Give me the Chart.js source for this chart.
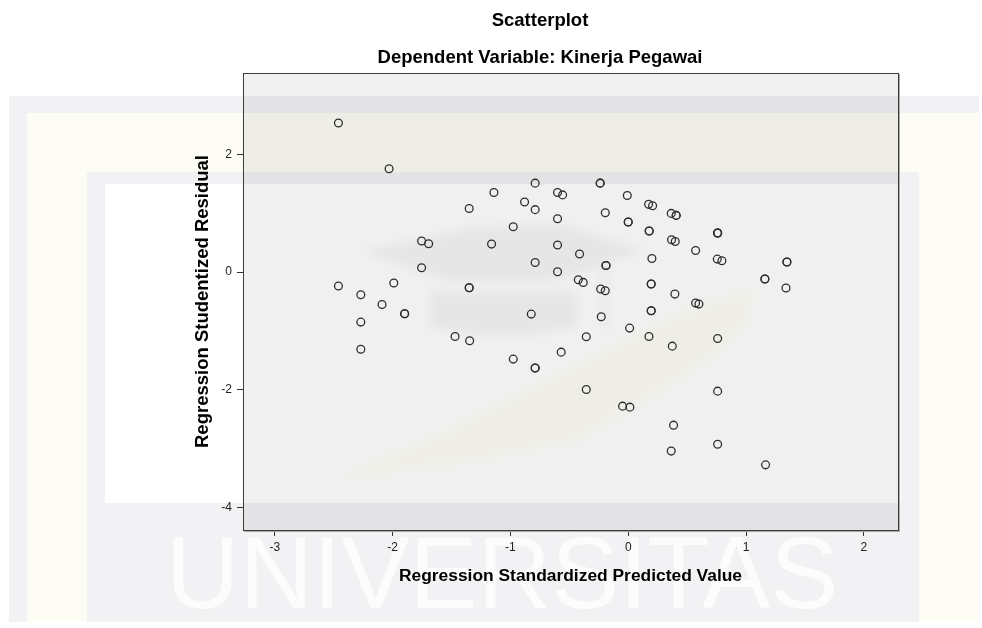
<!DOCTYPE html>
<html>
<head>
<meta charset="utf-8">
<script src="https://cdn.jsdelivr.net/npm/chart.js@4/dist/chart.umd.min.js"></script>
<style>
html,body{margin:0;padding:0;background:#fff;}
#wrap{position:relative;width:982px;height:628px;}
</style>
</head>
<body>
<div id="wrap"><canvas id="c" width="982" height="628"></canvas></div>
<script>
// ---- chart content ----
const chartTitle = 'Scatterplot';
const chartSubtitle = 'Dependent Variable: Kinerja Pegawai';
const xAxisTitle = 'Regression Standardized Predicted Value';
const yAxisTitle = 'Regression Studentized Residual';
const watermarkText = 'UNIVERSITAS';

const xTicks = [-3, -2, -1, 0, 1, 2];
const yTicks = [-4, -2, 0, 2];

const predictedValues = [
  -2.46, -2.03, -0.79, -0.238, -0.238, -1.14, -0.60, -0.557, -0.008, -0.88,
  0.173, 0.207, -1.35, -0.79, 0.365, 0.407, 0.407, -0.195, -0.60, 0.0,
  0.0, -0.976, 0.178, 0.178, 0.759, 0.759, 0.759, -1.754, -1.694, -1.16,
  -0.60, 0.368, 0.399, 0.572, -0.413, 0.201, 0.756, 0.795, 1.347, 1.347,
  -0.79, -0.189, -0.189, -1.754, -0.60, -2.46, -1.99, -1.35, -1.35, -2.27,
  -0.424, -0.382, 0.195, 0.195, 1.16, 1.16, 1.339, -0.234, -0.195, 0.396,
  -2.09, -1.898, -1.898, -0.823, 0.572, 0.60, -0.229, 0.195, 0.195, -2.27,
  -1.47, -1.346, -0.356, 0.012, 0.176, 0.374, 0.759, -2.27, -0.976, -0.569,
  -0.79, -0.79, -0.356, 0.759, -0.048, 0.014, 0.385, 0.365, 0.759, 1.166
];
const studentizedResiduals = [
  2.53, 1.755, 1.51, 1.51, 1.51, 1.35, 1.35, 1.31, 1.30, 1.19,
  1.15, 1.127, 1.08, 1.06, 0.996, 0.962, 0.962, 1.008, 0.905, 0.85,
  0.85, 0.77, 0.697, 0.697, 0.663, 0.663, 0.663, 0.527, 0.48, 0.475,
  0.459, 0.549, 0.52, 0.367, 0.306, 0.231, 0.22, 0.192, 0.17, 0.17,
  0.163, 0.112, 0.112, 0.073, 0.005, -0.238, -0.187, -0.267, -0.267, -0.386,
  -0.131, -0.176, -0.204, -0.204, -0.119, -0.119, -0.272, -0.289, -0.318, -0.374,
  -0.55, -0.709, -0.709, -0.714, -0.527, -0.544, -0.76, -0.658, -0.658, -0.85,
  -1.094, -1.167, -1.099, -0.952, -1.094, -1.258, -1.128, -1.31, -1.478, -1.36,
  -1.63, -1.63, -1.995, -2.022, -2.277, -2.294, -2.60, -3.04, -2.923, -3.274
];

// ---- drawing ----
const FONT = '"Liberation Sans", Arial, sans-serif';
Chart.defaults.font.family = FONT;

const points = predictedValues.map((x, i) => ({ x: x, y: studentizedResiduals[i] }));

const backdrop = {
  id: 'backdrop',
  beforeDraw(chart) {
    const ctx = chart.ctx, a = chart.chartArea;
    ctx.save();
    ctx.fillStyle = '#ffffff';
    ctx.fillRect(0, 0, chart.width, chart.height);
    // faint page watermark frame
    ctx.fillStyle = '#f2f2f4';
    ctx.fillRect(9, 96, 970, 526);
    ctx.fillStyle = '#fdfcf5';
    ctx.fillRect(27, 113, 952, 509);
    ctx.fillStyle = '#f2f2f4';
    ctx.fillRect(87, 172, 832, 450);
    ctx.fillStyle = '#ffffff';
    ctx.fillRect(105, 184, 796, 319);
    // watermark word
    ctx.font = '102px ' + FONT;
    ctx.fillStyle = '#fcfcfc';
    ctx.textAlign = 'center';
    ctx.textBaseline = 'alphabetic';
    ctx.fillText(watermarkText, 502, 608);
    // plot background (multiplied with the watermark)
    ctx.globalCompositeOperation = 'multiply';
    ctx.fillStyle = '#f0f0f0';
    ctx.fillRect(a.left, a.top, a.right - a.left, a.bottom - a.top);
    // faint logo: mortarboard
    ctx.save();
    ctx.beginPath();
    ctx.rect(a.left, a.top, a.right - a.left, a.bottom - a.top);
    ctx.clip();
    ctx.filter = 'blur(5px)';
    ctx.fillStyle = '#f5f5f6';
    ctx.beginPath();
    ctx.moveTo(362, 252); ctx.lineTo(470, 228); ctx.lineTo(560, 224);
    ctx.lineTo(644, 250); ctx.lineTo(560, 280); ctx.lineTo(450, 282);
    ctx.closePath(); ctx.fill();
    ctx.beginPath();
    ctx.moveTo(430, 292); ctx.lineTo(577, 292); ctx.lineTo(577, 326);
    ctx.quadraticCurveTo(503, 345, 430, 326);
    ctx.closePath(); ctx.fill();
    ctx.fillRect(602, 262, 6, 66);
    // faint logo: quill
    ctx.fillStyle = '#fefdf5';
    ctx.beginPath();
    ctx.moveTo(335, 478); ctx.lineTo(450, 430); ctx.lineTo(560, 372);
    ctx.lineTo(680, 312); ctx.lineTo(755, 290); ctx.lineTo(745, 330);
    ctx.lineTo(680, 380); ctx.lineTo(580, 440); ctx.lineTo(470, 462);
    ctx.closePath(); ctx.fill();
    ctx.restore();
    ctx.restore();
  },
  afterDraw(chart) {
    const ctx = chart.ctx, a = chart.chartArea;
    ctx.save();
    ctx.strokeStyle = '#aaaaaa';
    ctx.lineWidth = 1;
    ctx.beginPath();
    ctx.moveTo(a.right + 1.5, a.top + 1); ctx.lineTo(a.right + 1.5, a.bottom + 1.5);
    ctx.lineTo(a.left + 1, a.bottom + 1.5);
    ctx.stroke();
    ctx.strokeStyle = '#3c3c3c';
    ctx.strokeRect(Math.round(a.left) + 0.5, Math.round(a.top) + 0.5,
      Math.round(a.right - a.left), Math.round(a.bottom - a.top));
    ctx.restore();
  }
};

new Chart(document.getElementById('c'), {
  type: 'scatter',
  data: {
    datasets: [{
      data: points,
      xAxisID: 'x',
      yAxisID: 'y',
      pointStyle: 'circle',
      pointRadius: 3.9,
      pointHoverRadius: 3.9,
      borderWidth: 1.3,
      borderColor: '#2e2e2e',
      backgroundColor: 'rgba(0,0,0,0)'
    }]
  },
  options: {
    responsive: false,
    devicePixelRatio: 1,
    animation: false,
    events: [],
    layout: { padding: { left: 98, right: 0, top: 0, bottom: 0 } },
    plugins: {
      legend: { display: false },
      tooltip: { enabled: false },
      title: {
        display: true, text: chartTitle, color: '#000',
        font: { size: 18.5, weight: 'bold', lineHeight: 1.2 },
        padding: { top: 10, bottom: 0 }
      },
      subtitle: {
        display: true, text: chartSubtitle, color: '#000',
        font: { size: 18.5, weight: 'bold', lineHeight: 1.2 },
        padding: { top: 14.7, bottom: 3.9 }
      }
    },
    scales: {
      x: {
        type: 'linear', position: 'bottom',
        min: -3.27, max: 2.29,
        afterBuildTicks: s => { s.ticks = xTicks.map(v => ({ value: v })); },
        afterFit: s => { s.height = 98; },
        grid: { display: true, drawOnChartArea: false, drawTicks: true, tickLength: 6, color: '#333', lineWidth: 1 },
        border: { display: true, color: '#3c3c3c', width: 1 },
        ticks: { color: '#222', font: { size: 12 }, padding: 4, maxRotation: 0, autoSkip: false },
        title: {
          display: true, text: xAxisTitle, color: '#000',
          font: { size: 17.4, weight: 'bold', lineHeight: 1.2 },
          padding: { top: 0, bottom: 41.8 }
        }
      },
      y: {
        type: 'linear', position: 'left',
        min: -4.38, max: 3.38,
        afterBuildTicks: s => { s.ticks = yTicks.map(v => ({ value: v })); },
        afterFit: s => { s.width = 145; },
        grid: { display: true, drawOnChartArea: false, drawTicks: true, tickLength: 6, color: '#333', lineWidth: 1 },
        border: { display: true, color: '#3c3c3c', width: 1 },
        ticks: { color: '#222', font: { size: 12 }, padding: 5, autoSkip: false },
        title: {
          display: true, text: yAxisTitle, color: '#000',
          font: { size: 18.5, weight: 'bold', lineHeight: 1.2 },
          padding: { top: 94, bottom: 0 }
        }
      },
      yRight: {
        type: 'linear', position: 'right', display: true,
        grid: { display: false }, border: { display: false },
        ticks: { display: false },
        afterFit: s => { s.width = 84; }
      }
    }
  },
  plugins: [backdrop]
});
</script>
</body>
</html>
